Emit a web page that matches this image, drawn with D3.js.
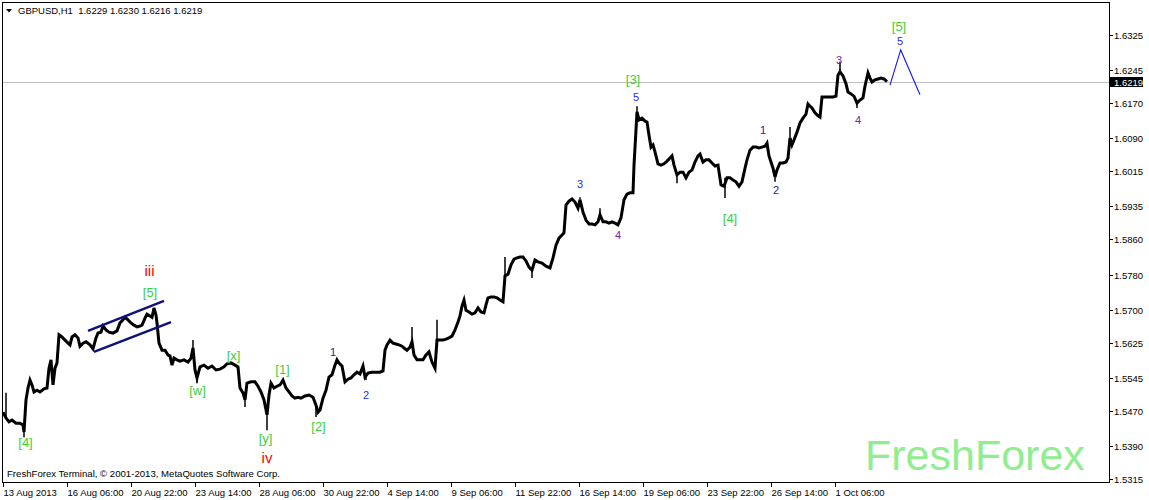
<!DOCTYPE html>
<html><head><meta charset="utf-8">
<script src="https://cdn.jsdelivr.net/npm/d3@7"></script>
<style>body{margin:0;background:#fff}svg{display:block}</style>
</head><body>
<svg id="c" width="1149" height="500"></svg>
<script>
// ---- data ----
const bars = [3,6,9,12,16,20,23,24,26,28,30,32,34,37,40,44,47,49,51,53,55,57,59,62,65,68,70,72,75,78,80,83,86,90,93,96,98,101,103,106,
109,113,117,120,123,125,128,131,134,137,140,142,145,147,150,152,154,156,157,159,162,165,168,170,172,174,177,180,184,188,
191,193,195,197,200,204,208,212,216,220,224,227,231,235,238,240,243,245,247,251,255,258,261,264,267,269,271,274,277,280,
283,286,289,292,295,298,301,305,309,313,316,318,320,323,326,329,332,335,337,339,342,345,348,351,354,357,360,363,365,368,
372,376,380,383,385,387,390,393,396,399,402,404,407,410,412,414,417,420,423,426,429,432,435,437,440,443,446,449,452,455,
458,460,462,464,466,469,472,475,478,481,484,486,488,491,494,497,500,503,505,508,511,514,517,520,523,526,529,532,535,538,
542,546,550,553,556,559,562,564,566,569,572,575,578,580,583,586,589,592,595,598,600,603,606,609,612,615,618,621,624,627,
630,633,634,636,637,639,642,645,647,649,651,653,655,658,661,664,667,670,672,674,677,680,683,686,689,692,695,698,700,703,
706,709,712,715,718,721,724,727,730,733,736,739,742,745,747,750,753,756,759,762,765,767,769,771,773,775,777,780,783,786,
788,790,792,794,797,800,803,806,808,810,812,815,818,820,822,825,829,833,836,838,840,843,846,848,851,854,857,860,863,865,
868,870,872,875,878,881,884,887];
const closes = [1.5467,1.5454,1.5445,1.5449,1.5442,1.5442,1.5438,1.5422,1.5495,1.5522,1.5540,1.5529,1.5513,1.5517,1.5513,1.5520,1.5522,1.5567,1.5586,1.5529,1.5567,1.5579,1.5643,1.5638,1.5631,1.5624,1.5620,1.5638,1.5643,1.5636,1.5617,1.5624,1.5627,1.5620,1.5611,1.5636,1.5647,1.5649,1.5663,1.5654,
1.5649,1.5647,1.5652,1.5670,1.5677,1.5683,1.5677,1.5670,1.5665,1.5661,1.5663,1.5665,1.5681,1.5690,1.5686,1.5683,1.5704,1.5688,1.5670,1.5624,1.5608,1.5608,1.5597,1.5595,1.5574,1.5590,1.5586,1.5583,1.5586,1.5581,
1.5590,1.5613,1.5563,1.5545,1.5570,1.5574,1.5567,1.5572,1.5563,1.5565,1.5570,1.5577,1.5579,1.5574,1.5570,1.5522,1.5511,1.5495,1.5533,1.5536,1.5536,1.5526,1.5513,1.5495,1.5461,1.5506,1.5533,1.5522,1.5526,1.5529,
1.5540,1.5522,1.5513,1.5504,1.5499,1.5501,1.5499,1.5504,1.5506,1.5501,1.5483,1.5467,1.5472,1.5499,1.5517,1.5547,1.5552,1.5574,1.5586,1.5579,1.5572,1.5536,1.5542,1.5545,1.5552,1.5558,1.5554,1.5572,1.5547,1.5556,
1.5558,1.5558,1.5558,1.5561,1.5608,1.5620,1.5631,1.5624,1.5622,1.5620,1.5617,1.5613,1.5608,1.5615,1.5627,1.5597,1.5586,1.5586,1.5586,1.5597,1.5604,1.5581,1.5567,1.5631,1.5631,1.5631,1.5633,1.5636,1.5640,1.5654,
1.5672,1.5686,1.5708,1.5722,1.5699,1.5695,1.5690,1.5693,1.5704,1.5695,1.5693,1.5711,1.5727,1.5729,1.5729,1.5727,1.5722,1.5718,1.5777,1.5781,1.5802,1.5815,1.5818,1.5820,1.5820,1.5811,1.5797,1.5790,1.5813,1.5809,
1.5806,1.5799,1.5795,1.5818,1.5847,1.5863,1.5870,1.5875,1.5938,1.5947,1.5952,1.5945,1.5931,1.5950,1.5922,1.5904,1.5895,1.5895,1.5893,1.5900,1.5916,1.5900,1.5900,1.5897,1.5900,1.5897,1.5893,1.5909,1.5950,1.5963,
1.5966,1.5966,1.6029,1.6109,1.6150,1.6132,1.6136,1.6129,1.6127,1.6097,1.6070,1.6075,1.6059,1.6032,1.6029,1.6032,1.6038,1.6045,1.6050,1.6029,1.6007,1.6013,1.6013,1.6000,1.6013,1.6018,1.6036,1.6050,1.6054,1.6036,
1.6041,1.6041,1.6034,1.6027,1.6029,1.5984,1.5981,1.6000,1.6000,1.5995,1.5991,1.5981,1.5991,1.6022,1.6041,1.6063,1.6070,1.6070,1.6068,1.6070,1.6072,1.6079,1.6050,1.6036,1.6022,1.6002,1.6018,1.6034,1.6034,1.6036,
1.6045,1.6091,1.6075,1.6086,1.6104,1.6125,1.6136,1.6145,1.6168,1.6163,1.6159,1.6148,1.6141,1.6138,1.6184,1.6184,1.6184,1.6184,1.6186,1.6234,1.6241,1.6232,1.6214,1.6195,1.6191,1.6186,1.6170,1.6177,1.6182,1.6209,
1.6239,1.6227,1.6218,1.6223,1.6225,1.6227,1.6225,1.6219];
// wick extremes
const spikeBars   = [6,24,193,197,245,267,316,366,412,437,505,532,580,600,637,677,725,775,790,840,857];
const spikePrices = [1.5511,1.5410,1.5631,1.5533,1.5479,1.5426,1.5456,1.5540,1.5661,1.5677,1.5820,1.5772,1.5956,1.5931,1.6163,1.5988,1.5954,1.5991,1.6116,1.6264,1.6159];
// projected wave 5
const projBars = [890, 900.7, 920];
const projPrices = [1.6211, 1.6291, 1.6189];
// channel
const chanUpperBars = [88, 164], chanUpperPrices = [1.5652, 1.5720];
const chanLowerBars = [94, 171], chanLowerPrices = [1.5604, 1.5672];
// axis ticks
const yTicks = [1.6325,1.6245,1.6170,1.6090,1.6015,1.5935,1.5860,1.5780,1.5700,1.5625,1.5545,1.5470,1.5390,1.5315];
const xTickBars = [3,67,131,195,259,323,387,451,515,579,643,707,771,835];
const xTickLabels = ["13 Aug 2013","16 Aug 06:00","20 Aug 22:00","23 Aug 14:00","28 Aug 06:00","30 Aug 22:00","4 Sep 14:00","9 Sep 06:00","11 Sep 22:00","16 Sep 14:00","19 Sep 06:00","23 Sep 22:00","26 Sep 14:00","1 Oct 06:00"];
const lastPrice = 1.6219;
// wave labels
const waveTexts  = ["[4]","iii","[5]","[w]","[x]","[1]","[y]","iv","[2]","1","2","3","4","5","[3]","[4]","1","2","3","4","5","[5]"];
const waveBars   = [25.5,149.5,150,197.5,233.5,282.5,265.5,267,318.5,333,366,580,618,636,633,730,763,776,839,858,900,899];
const wavePrices = [1.5388,1.5777,1.5729,1.5506,1.5586,1.5554,1.5397,1.5351,1.5424,1.5595,1.5497,1.5977,1.5861,1.6175,1.6214,1.5897,1.6100,1.5963,1.6259,1.6122,1.6302,1.6334];
const waveKinds  = ["g","r","g","g","g","g","g","r","g","n","b","b","p","b","g","g","n","n","p","p","b","g"];

// ---- drawing ----
const kindColor = {g:"#3ccf3c", r:"#ff0000", b:"#2a2af0", n:"#23238c", p:"#6a2aa8"};
const FONT = "'Liberation Sans', Arial, sans-serif";
const svg = d3.select("#c");
const x = d3.scaleLinear().domain([0, 1149]).range([0, 1149]);
const y = d3.scaleLinear().domain([1.5315, 1.6325]).range([479, 35]);
const L = 2, R = 1109, T = 2, B = 482;

svg.append("rect").attr("width",1149).attr("height",500).attr("fill","#fff");

// watermark
svg.append("text").attr("x",865).attr("y",470).attr("font-family",FONT).attr("font-size",43)
  .attr("fill","#90ee90").text("FreshForex");

// last price line
svg.append("line").attr("x1",L).attr("x2",R).attr("y1",Math.round(y(lastPrice))+0.5).attr("y2",Math.round(y(lastPrice))+0.5)
  .attr("stroke","#c0c0c0").attr("stroke-width",1);

// price line
const pts = bars.map((b,i)=>[b, closes[i]]);
svg.append("path").datum(pts)
  .attr("d", d3.line().x(d=>x(d[0])).y(d=>y(d[1])))
  .attr("fill","none").attr("stroke","#000").attr("stroke-width",3).attr("stroke-linejoin","miter");

// wicks
const closeAt = b => { let i = d3.bisectLeft(bars, b); i = Math.min(i, bars.length-1); return closes[i]; };
svg.append("g").selectAll("line").data(spikeBars).join("line")
  .attr("x1",(d)=>x(d)).attr("x2",(d)=>x(d))
  .attr("y1",(d)=>y(closeAt(d))).attr("y2",(d,i)=>y(spikePrices[i]))
  .attr("stroke","#000").attr("stroke-width",1.5);

// channel
[[chanUpperBars,chanUpperPrices],[chanLowerBars,chanLowerPrices]].forEach(([bb,pp])=>{
  svg.append("line").attr("x1",x(bb[0])).attr("y1",y(pp[0])).attr("x2",x(bb[1])).attr("y2",y(pp[1]))
    .attr("stroke","#10107a").attr("stroke-width",2.4);
});

// projection
svg.append("path").datum(projBars.map((b,i)=>[b,projPrices[i]]))
  .attr("d", d3.line().x(d=>x(d[0])).y(d=>y(d[1])))
  .attr("fill","none").attr("stroke","#1414ff").attr("stroke-width",1.1);

// wave labels
svg.append("g").selectAll("text").data(waveTexts).join("text")
  .attr("x",(d,i)=>x(waveBars[i])).attr("y",(d,i)=>y(wavePrices[i]))
  .attr("text-anchor","middle").attr("font-family",FONT)
  .attr("font-size",(d,i)=> waveKinds[i]==="g" ? 13 : (waveKinds[i]==="r" ? 15 : 11))
  .attr("fill",(d,i)=>kindColor[waveKinds[i]]).text(d=>d);

// frame
svg.append("rect").attr("x",L+0.5).attr("y",T+0.5).attr("width",R-L).attr("height",B-T)
  .attr("fill","none").attr("stroke","#000").attr("stroke-width",1);

// right axis
const ya = svg.append("g");
yTicks.forEach(v=>{
  const yy = Math.round(y(v))+0.5;
  ya.append("line").attr("x1",R+1).attr("x2",R+4).attr("y1",yy).attr("y2",yy).attr("stroke","#000");
  ya.append("text").attr("x",R+5).attr("y",yy+3.5).attr("font-family",FONT).attr("font-size",9.5).attr("fill","#000").text(v.toFixed(4));
});
const ly = Math.round(y(lastPrice));
ya.append("rect").attr("x",R+1).attr("y",ly-5).attr("width",33).attr("height",10).attr("fill","#000");
ya.append("text").attr("x",R+5).attr("y",ly+3.5).attr("font-family",FONT).attr("font-size",9.5).attr("fill","#fff").text(lastPrice.toFixed(4));

// bottom axis
const xa = svg.append("g");
xTickBars.forEach((b,i)=>{
  const xx = Math.round(x(b))+0.5;
  xa.append("line").attr("x1",xx).attr("x2",xx).attr("y1",B+1).attr("y2",B+5).attr("stroke","#000");
  xa.append("text").attr("x",xx).attr("y",496).attr("font-family",FONT).attr("font-size",9.5).attr("fill","#000").text(xTickLabels[i]);
});

// title and copyright
svg.append("path").attr("d","M6,9 L12,9 L9,12.5 Z").attr("fill","#000");
svg.append("text").attr("x",18).attr("y",14).attr("font-family",FONT).attr("font-size",9.5).attr("fill","#000")
  .text("GBPUSD,H1  1.6229 1.6230 1.6216 1.6219").attr("xml:space","preserve").style("white-space","pre");
svg.append("text").attr("x",7).attr("y",477).attr("font-family",FONT).attr("font-size",9.6).attr("fill","#000")
  .text("FreshForex Terminal, © 2001-2013, MetaQuotes Software Corp.");
</script>
</body></html>
